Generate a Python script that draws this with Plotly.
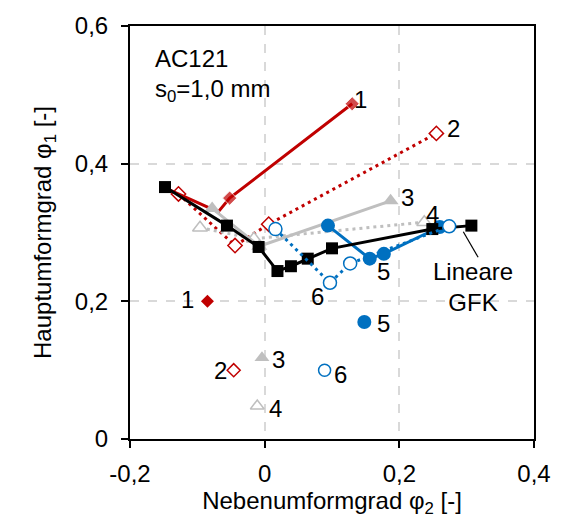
import plotly.graph_objects as go

# Lineare GFK (black)
gfk_x = [-0.148, -0.056, -0.009, 0.019, 0.039, 0.064, 0.100, 0.249, 0.307]
gfk_y = [0.366, 0.310, 0.279, 0.244, 0.251, 0.262, 0.277, 0.305, 0.310]

# Series 1 (red, solid, filled diamond)
s1_x = [-0.148, -0.069, -0.052, 0.130]
s1_y = [0.365, 0.330, 0.350, 0.487]
s1_show = [0, 0, 1, 1]

# Series 2 (red, dotted, open diamond)
s2_x = [-0.128, -0.044, 0.006, 0.255]
s2_y = [0.356, 0.281, 0.312, 0.444]

# Series 3 (grey, solid, filled triangle)
s3_x = [-0.078, -0.008, 0.187]
s3_y = [0.335, 0.280, 0.346]

# Series 4 (grey, dotted, open triangle)
s4_x = [-0.096, -0.016, 0.237]
s4_y = [0.307, 0.291, 0.315]

# Series 5 (blue, solid, filled circle)
s5_x = [0.094, 0.156, 0.177, 0.260]
s5_y = [0.310, 0.262, 0.269, 0.308]

# Series 6 (blue, dotted, open circle)
s6_x = [0.016, 0.097, 0.127, 0.274]
s6_y = [0.305, 0.227, 0.255, 0.309]

# Single points
p1 = (-0.085, 0.200)
p2 = (-0.046, 0.100)
p3 = (-0.004, 0.118)
p4 = (-0.011, 0.048)
p5 = (0.148, 0.170)
p6 = (0.089, 0.100)

# Labels
label_text = ["1", "2", "3", "4", "5", "6", "1", "2", "3", "4", "5", "6"]
label_x = [0.143, 0.281, 0.212, 0.249, 0.177, 0.078, -0.114, -0.066, 0.020, 0.016, 0.176, 0.113]
label_y = [0.493, 0.451, 0.351, 0.326, 0.243, 0.207, 0.202, 0.099, 0.116, 0.044, 0.168, 0.094]

x_ticks = [-0.2, 0.0, 0.2, 0.4]
x_ticktext = ["-0,2", "0", "0,2", "0,4"]
y_ticks = [0.0, 0.2, 0.4, 0.6]
y_ticktext = ["0", "0,2", "0,4", "0,6"]

RED = "#C00000"
GREY = "#BFBFBF"
BLUE = "#0070C0"
DOT = "3px,4px"
FS = 24

fig = go.Figure()

fig.add_trace(go.Scatter(x=s2_x, y=s2_y, mode="lines+markers",
    line=dict(color=RED, width=3, dash=DOT),
    marker=dict(symbol="diamond", size=11, color="white", line=dict(color=RED, width=1.5))))
fig.add_trace(go.Scatter(x=s4_x, y=s4_y, mode="lines+markers",
    line=dict(color=GREY, width=3, dash=DOT),
    marker=dict(symbol="triangle-up", size=13, color="white", line=dict(color=GREY, width=1.5))))
fig.add_trace(go.Scatter(x=s1_x, y=s1_y, mode="lines+markers",
    line=dict(color=RED, width=3),
    marker=dict(symbol="diamond", size=[11 * v for v in s1_show], color=RED)))
fig.add_trace(go.Scatter(x=s3_x, y=s3_y, mode="lines+markers",
    line=dict(color=GREY, width=3),
    marker=dict(symbol="triangle-up", size=14, color=GREY)))
fig.add_trace(go.Scatter(x=s5_x, y=s5_y, mode="lines+markers",
    line=dict(color=BLUE, width=3),
    marker=dict(symbol="circle", size=14, color=BLUE)))
fig.add_trace(go.Scatter(x=gfk_x, y=gfk_y, mode="lines+markers",
    line=dict(color="black", width=3),
    marker=dict(symbol="square", size=12, color="black")))
fig.add_trace(go.Scatter(x=s6_x, y=s6_y, mode="lines+markers",
    line=dict(color=BLUE, width=3, dash=DOT),
    marker=dict(symbol="circle", size=13, color="white", line=dict(color=BLUE, width=1.5))))

# single points
fig.add_trace(go.Scatter(x=[p1[0]], y=[p1[1]], mode="markers",
    marker=dict(symbol="diamond", size=10, color=RED)))
fig.add_trace(go.Scatter(x=[p2[0]], y=[p2[1]], mode="markers",
    marker=dict(symbol="diamond", size=10, color="white", line=dict(color=RED, width=1.5))))
fig.add_trace(go.Scatter(x=[p3[0]], y=[p3[1]], mode="markers",
    marker=dict(symbol="triangle-up", size=13, color=GREY)))
fig.add_trace(go.Scatter(x=[p4[0]], y=[p4[1]], mode="markers",
    marker=dict(symbol="triangle-up", size=12, color="white", line=dict(color=GREY, width=1.5))))
fig.add_trace(go.Scatter(x=[p5[0]], y=[p5[1]], mode="markers",
    marker=dict(symbol="circle", size=14, color=BLUE)))
fig.add_trace(go.Scatter(x=[p6[0]], y=[p6[1]], mode="markers",
    marker=dict(symbol="circle", size=12, color="white", line=dict(color=BLUE, width=1.5))))

FONT = "Liberation Sans, Arial, sans-serif"
annotations = []
for t, x, y in zip(label_text, label_x, label_y):
    annotations.append(dict(x=x, y=y, text=t, showarrow=False, xref="x", yref="y",
                            font=dict(size=FS, color="black", family=FONT)))
annotations.append(dict(x=-0.166, y=0.553, text="AC121", showarrow=False, xanchor="left",
                        font=dict(size=FS, color="black", family=FONT)))
annotations.append(dict(x=-0.166, y=0.507, text="s<sub>0</sub>=1,0 mm", showarrow=False, xanchor="left",
                        font=dict(size=FS, color="black", family=FONT)))
annotations.append(dict(x=0.310, y=0.221, text="Lineare<br>GFK", showarrow=False,
                        align="center", font=dict(size=FS, color="black", family=FONT)))

fig.add_shape(type="line", x0=0.295, y0=0.301, x1=0.317, y1=0.264, xref="x", yref="y",
              line=dict(color="black", width=1.2))

axis_common = dict(showline=True, linecolor="black", linewidth=2, mirror=True,
                   ticks="outside", ticklen=7, tickwidth=2, tickcolor="black",
                   showgrid=True, gridcolor="#D9D9D9", gridwidth=2, griddash="dash",
                   zeroline=False, tickfont=dict(size=FS, color="black", family=FONT))

fig.update_layout(
    width=563, height=522,
    margin=dict(l=130, r=20, t=23, b=83),
    paper_bgcolor="white", plot_bgcolor="white",
    showlegend=False,
    annotations=annotations,
    xaxis=dict(range=[-0.2, 0.4], tickvals=x_ticks, ticktext=x_ticktext,
               ticklabelstandoff=5,
               title=dict(text="Nebenumformgrad φ<sub>2</sub> [-]", standoff=6,
                          font=dict(size=FS, color="black", family=FONT)),
               **axis_common),
    yaxis=dict(range=[0, 0.6], tickvals=y_ticks, ticktext=y_ticktext,
               ticklabelstandoff=8,
               title=dict(text="Hauptumformgrad φ<sub>1</sub> [-]", standoff=16,
                          font=dict(size=FS, color="black", family=FONT)),
               **axis_common),
)

fig.write_html("out.html")
